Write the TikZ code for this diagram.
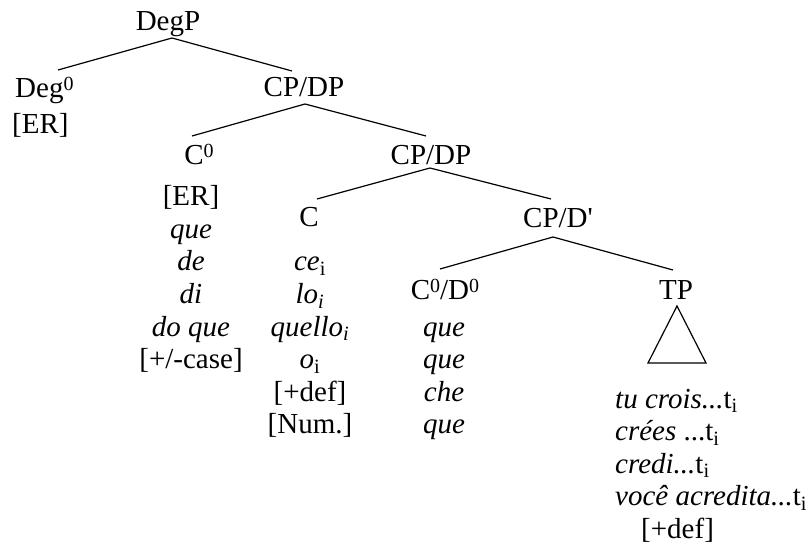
\documentclass[tikz,border=0pt]{standalone}
\usepackage{fontspec}
\setmainfont{Liberation Serif}
\usetikzlibrary{calc}
\newcommand\supnum[1]{\raisebox{7pt}{\fontsize{20}{20}\selectfont #1}}
\begin{document}
\begin{tikzpicture}[x=1pt,y=-1pt,
  every node/.style={inner sep=0pt, font=\fontsize{29}{34}\selectfont},
  lbl/.style={anchor=base},
  lblw/.style={anchor=base west},
  edge/.style={line width=1.2pt}]
\useasboundingbox (0,0) rectangle (811,545);
% category labels
\node[lbl] (degp) at (168,31) {DegP};
\node[lblw] (deg) at (15,98) {Deg\supnum{0}};
\node[lblw] (er1) at (12,134) {[ER]};
\node[lbl] (cpdp1) at (304,97) {CP/DP};
\node[lbl] (c0) at (199,165) {C\supnum{0}};
\node[lbl] (cpdp2) at (431,165) {CP/DP};
\node[lbl] (c) at (309,227) {C};
\node[lbl] (cpd) at (558,228) {CP/D\textquotesingle};
\node[lbl] (c0d0) at (445,300) {C\supnum{0}/D\supnum{0}};
\node[lbl] (tp) at (676,299) {TP};
% branches
\draw[edge] ($(deg.base west)+(43,-28)$) -- ($(degp.base)+(4,7)$) -- ($(cpdp1.base)+(-12,-26)$);
\draw[edge] ($(c0.base)+(-7,-29)$) -- ($(cpdp1.base)+(1,7)$) -- ($(cpdp2.base)+(-5,-29)$);
\draw[edge] ($(c.base)+(8,-28)$) -- ($(cpdp2.base)+(-1,3)$) -- ($(cpd.base)+(-7,-29)$);
\draw[edge] ($(c0d0.base)+(-5,-31)$) -- ($(cpd.base)+(-5,9)$) -- ($(tp.base)+(-3,-29)$);
\draw[edge, line join=miter] ($(tp.base)+(1,7)$) -- ++(-29,57) -- ++(58,0) -- cycle;
% column under C0
\node[lbl] (a1) at (191,206) {[ER]};
\node[lbl] (a2) at (191,238.5) {\textit{que}};
\node[lbl] (a3) at (191,271) {\textit{de}};
\node[lbl] (a4) at (191,303.5) {\textit{di}};
\node[lbl] (a5) at (191,336) {\textit{do que}};
\node[lbl] (a6) at (191,368.5) {[+/-case]};
% column under C
\node[lbl] (b1) at (310,271) {\textit{ce}\textsubscript{i}};
\node[lbl] (b2) at (310,303.5) {\textit{lo\textsubscript{i}}};
\node[lbl] (b3) at (310,336) {\textit{quello\textsubscript{i}}};
\node[lbl] (b4) at (310,368.5) {\textit{o}\textsubscript{i}};
\node[lbl] (b5) at (310,401) {[+def]};
\node[lbl] (b6) at (310,433.5) {[Num.]};
% column under C0/D0
\node[lbl] (d1) at (444,336) {\textit{que}};
\node[lbl] (d2) at (444,368.5) {\textit{que}};
\node[lbl] (d3) at (444,401) {\textit{che}};
\node[lbl] (d4) at (444,433.5) {\textit{que}};
% under TP
\node[lblw] (e1) at (615,408) {\textit{tu crois...}t\textsubscript{i}};
\node[lblw] (e2) at (615,440.5) {\textit{crées} ...t\textsubscript{i}};
\node[lblw] (e3) at (615,473) {\textit{credi...}t\textsubscript{i}};
\node[lblw] (e4) at (615,505.5) {\textit{você acredita...}t\textsubscript{i}};
\node[lblw] (e5) at (641,538) {[+def]};
\end{tikzpicture}
\end{document}
